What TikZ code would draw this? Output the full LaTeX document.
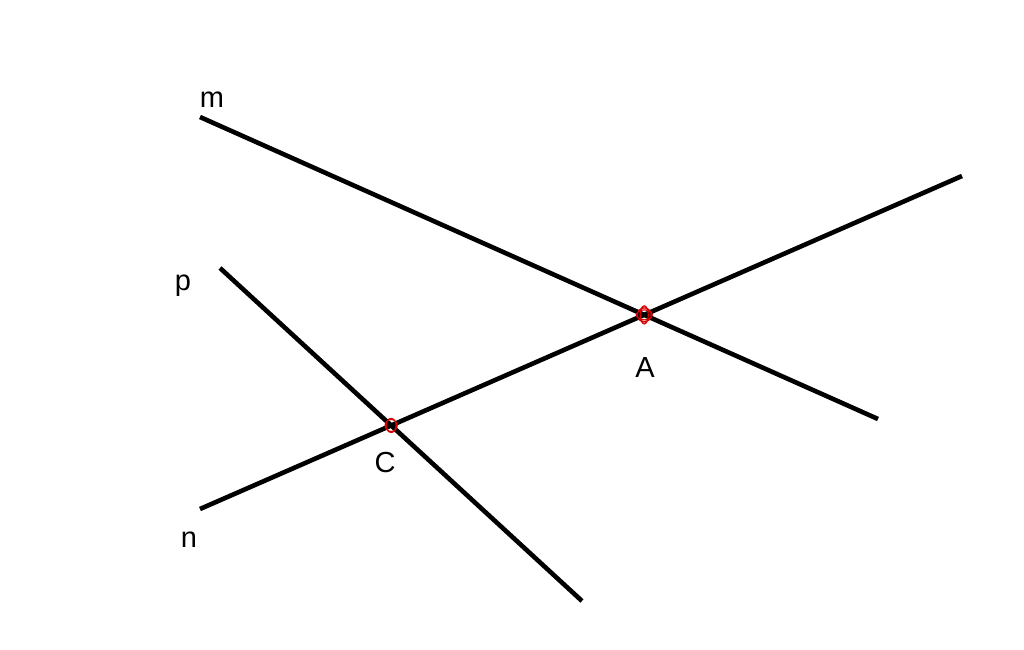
\documentclass[tikz,border=0pt]{standalone}
\usepackage{fontspec}
\setmainfont{Liberation Sans}
\begin{document}
\begin{tikzpicture}[x=0.5pt,y=-0.5pt,
    ln/.style={line width=2.3pt, black},
    lab/.style={font=\fontsize{14.5}{16}\selectfont},
    mk/.style={draw=red!85!black, line width=0.6pt}]
			\useasboundingbox (0,0) rectangle (1024,649);
			
			\coordinate (m1) at (200,117); \coordinate (m2) at (878,419);
			\coordinate (n1) at (200,509); \coordinate (n2) at (962,176);
			\coordinate (p1) at (220,268); \coordinate (p2) at (582,601);
			\coordinate (A) at (intersection of m1--m2 and n1--n2);
			\coordinate (C) at (intersection of p1--p2 and n1--n2);
			
			\draw[ln] (m1)--(m2)  (n1)--(n2)  (p1)--(p2);
			\draw[mk] (A) circle (7) (A) ellipse (4 and 9) (A) ellipse (8 and 5);
			\draw[mk] (C) circle (6) (C) ellipse (5 and 7);
			
			\node[lab] (labm) at (212,100){m};
			\node[lab] (labp) at (183,286){p};
			\node[lab] (labn) at (189,540){n};
			\node[lab] (labA) at (645,368){A};
			\node[lab] (labC) at (385,463){C};
		\end{tikzpicture}
\end{document}
